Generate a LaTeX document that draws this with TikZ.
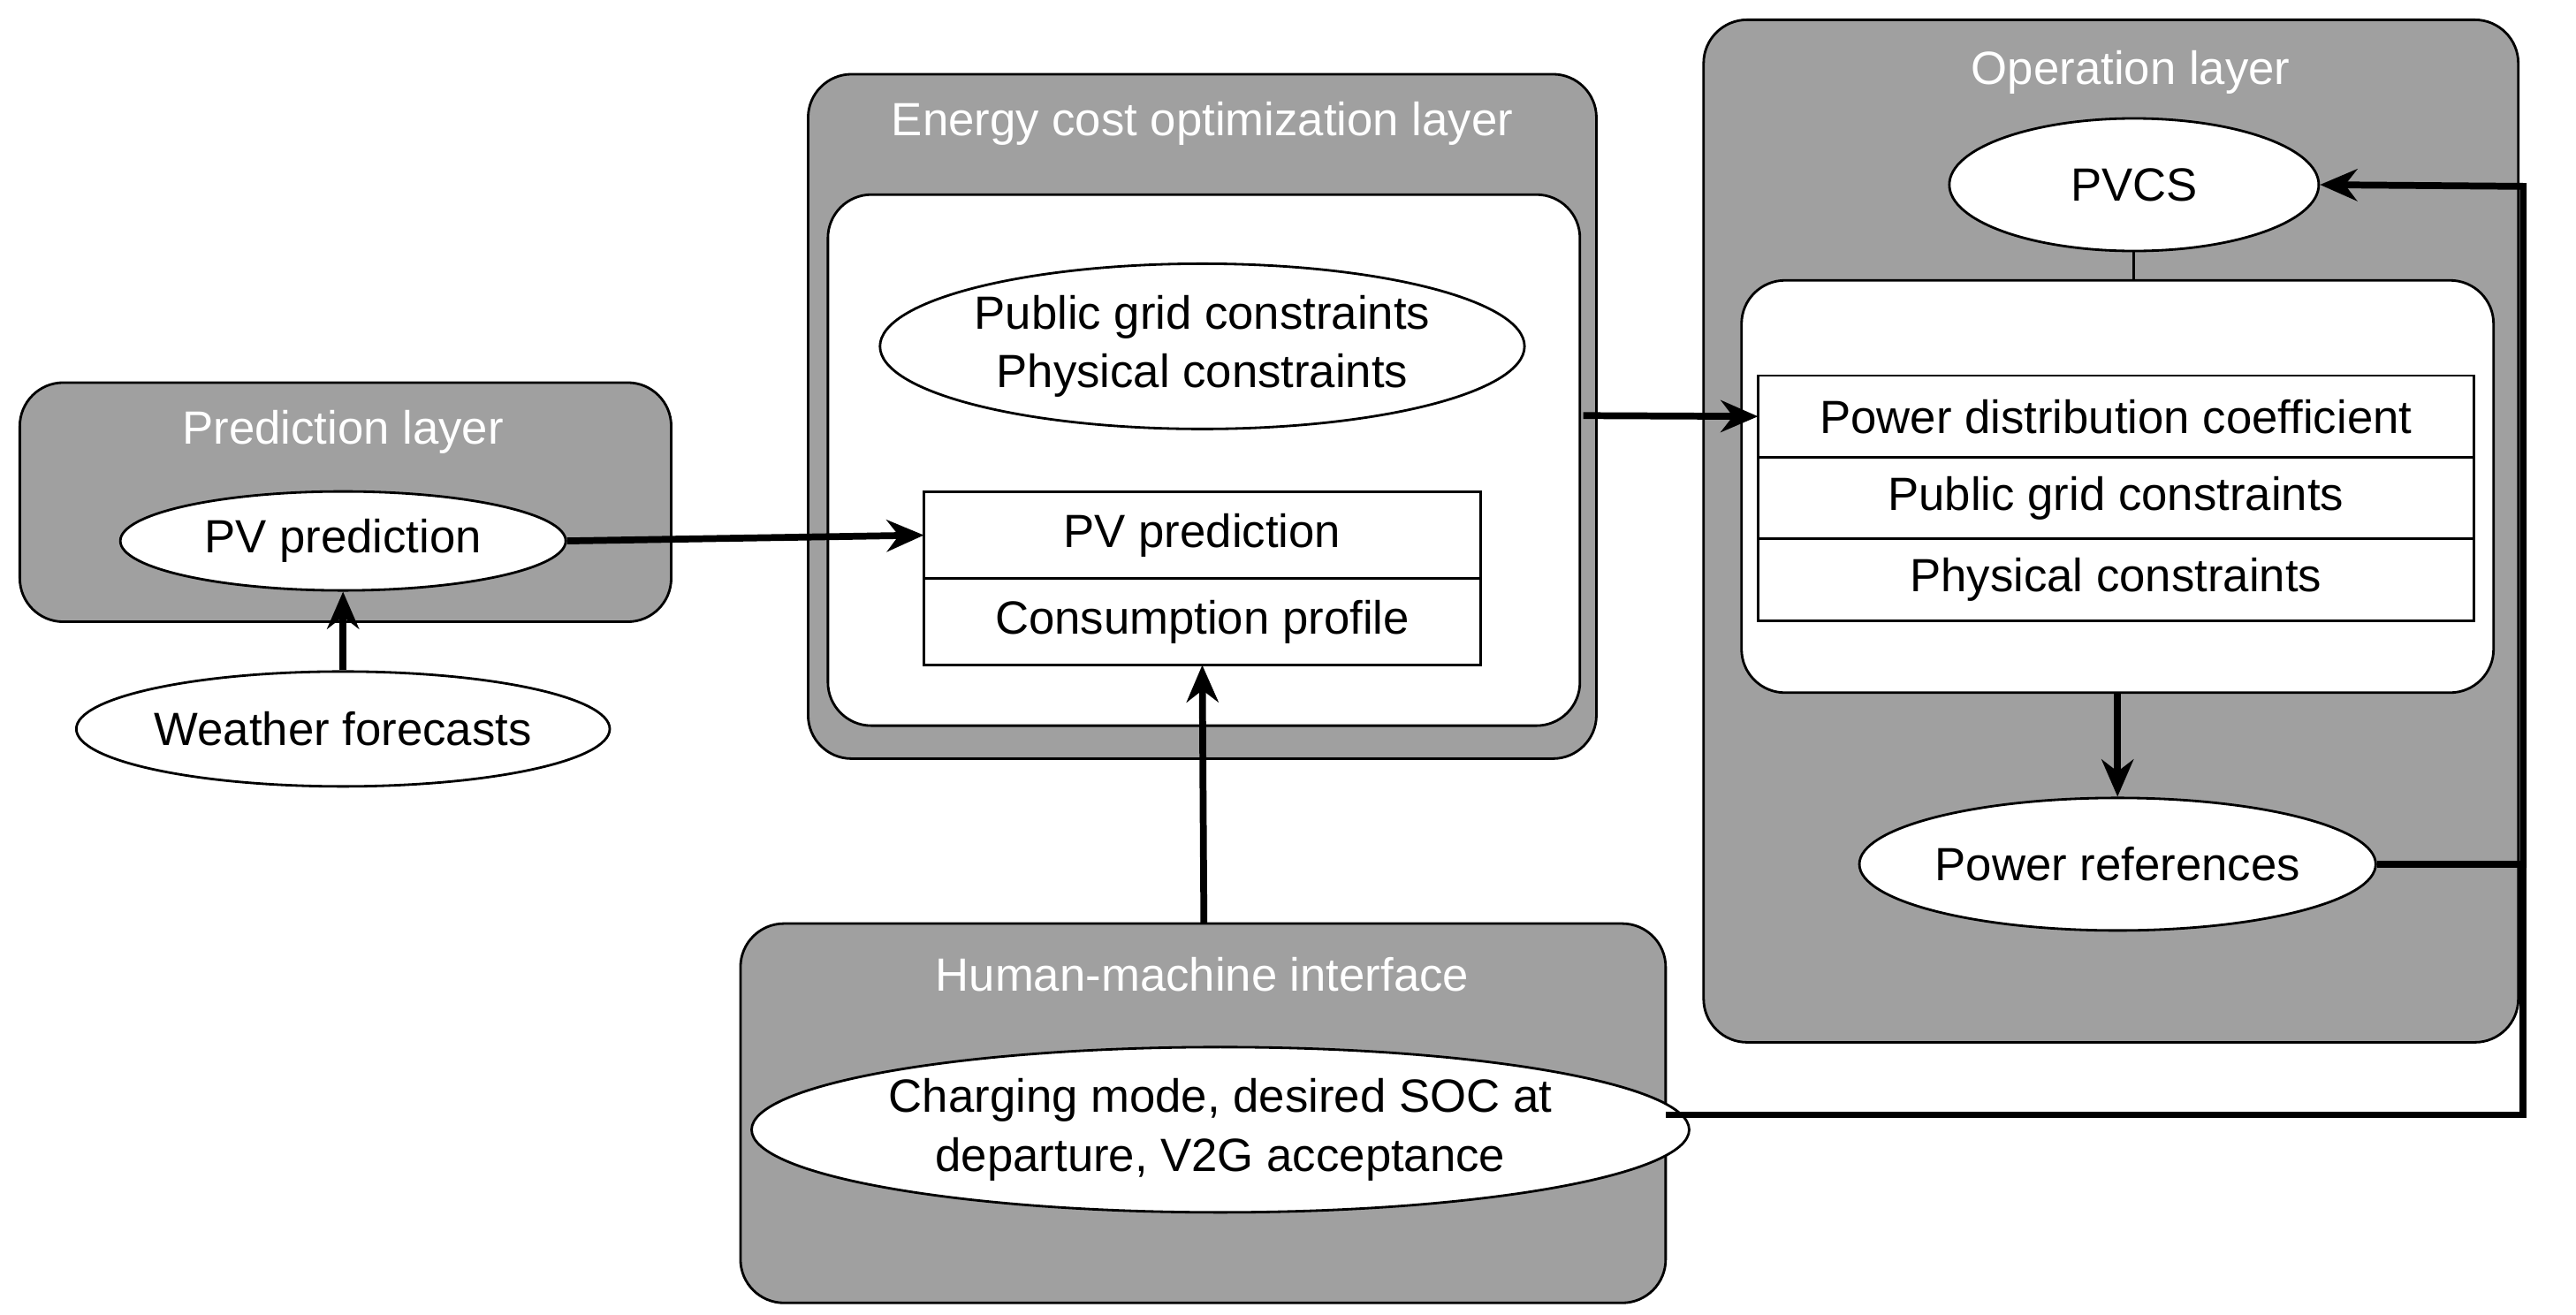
\documentclass[tikz,border=0pt]{standalone}
\usepackage{fontspec}
\setmainfont{Liberation Sans}
\usetikzlibrary{shapes.geometric,arrows.meta,positioning}
\definecolor{layergrey}{HTML}{A0A0A0}
\tikzset{
  layer/.style={draw,fill=layergrey,rounded corners=14pt,line width=0.8pt},
  inner/.style={draw,fill=white,rounded corners=14pt,line width=0.8pt},
  title/.style={text=white},
  oval/.style={draw,fill=white,ellipse,inner sep=0pt,line width=0.8pt},
  row/.style={draw,fill=white,line width=0.8pt,inner sep=0pt,outer sep=0pt},
  flow/.style={-{Stealth[length=0.42cm,width=0.36cm]},line width=2.2pt}
}
\begin{document}
\begin{tikzpicture}[x=0.01866cm,y=-0.01866cm,font=\fontsize{15}{19}\selectfont]
  \useasboundingbox (0,0) rectangle (1562,797);
  % prediction layer
  \draw[layer] (12,232) rectangle (407,377);
  \node[title] (predT) at (208,262) {Prediction layer};
  \node[oval,minimum width=5.04cm,minimum height=1.12cm] (pv) at (208,328) {PV prediction};
  \node[oval,minimum width=5cm,minimum height=1.3cm] (wf) at (208,442) {Weather forecasts};
  % energy cost optimization layer
  \draw[layer] (490,45) rectangle (968,460);
  \node[title] (enT) at (729,75) {Energy cost optimization layer};
  \draw[inner] (502,118) rectangle (958,440);
  \coordinate (enR) at (960,252);
  \node[oval,minimum width=7.1cm,minimum height=1.87cm,align=center] (cons) at (729,210) {Public grid constraints\\Physical constraints};
  \node[row,minimum width=6.3cm,minimum height=0.98cm] (pvrow) at (729,324.5) {PV prediction};
  \node[row,minimum width=6.3cm,minimum height=0.98cm] (conrow) at (729,377) {Consumption profile};
  % operation layer
  \draw[layer] (1033,12) rectangle (1527,632);
  \node[title] (opT) at (1292,44) {Operation layer};
  \node[oval,minimum width=4.18cm,minimum height=1.5cm] (pvcs) at (1294,112) {PVCS};
  \draw[inner] (1056,170) rectangle (1512,420);
  \coordinate (opTop) at (1294,170);
  \coordinate (opBot) at (1284,420);
  \node[row,minimum width=8.1cm,minimum height=0.924cm] (coef) at (1283,252.5) {Power distribution coefficient};
  \node[row,minimum width=8.1cm,minimum height=0.924cm] (grid) at (1283,302) {Public grid constraints};
  \node[row,minimum width=8.1cm,minimum height=0.924cm] (phys) at (1283,351.5) {Physical constraints};
  \node[oval,minimum width=5.41cm,minimum height=1.5cm] (pref) at (1284,524) {Power references};
  % human-machine interface
  \draw[layer] (449,560) rectangle (1010,790);
  \node[title] (hmiT) at (729,591) {Human-machine interface};
  \node[oval,minimum width=9.33cm,minimum height=1.87cm,align=center] (hmi) at (740,685) {Charging mode, desired SOC at\\departure, V2G acceptance};
  \coordinate (hmiTop) at (730,560);
  \coordinate (hmiR) at (1010,676);
  % connectors
  \draw[flow] (wf) -- (pv);
  \draw[flow] (pv.east) -- (pvrow.west);
  \draw[flow] (hmiTop) -- (conrow.south);
  \draw[flow] (enR) -- (coef.west);
  \draw[line width=0.8pt] (pvcs) -- (opTop);
  \draw[flow] (opBot) -- (pref);
  \draw[flow] (pref.east) -| (1530,113) -- (pvcs.east);
  \draw[line width=2.2pt] (hmiR) -| (1530,524);
\end{tikzpicture}
\end{document}
